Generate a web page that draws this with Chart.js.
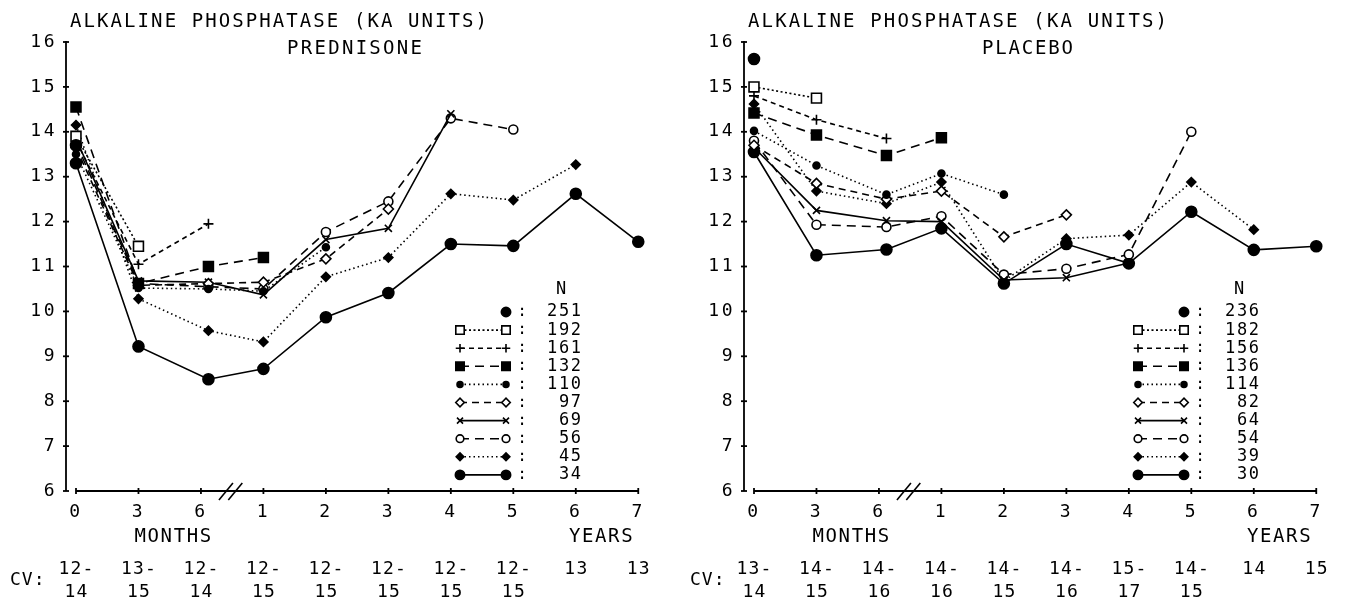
<!DOCTYPE html>
<html><head><meta charset="utf-8">
<script src="https://cdn.jsdelivr.net/npm/chart.js@4.4.1/dist/chart.umd.min.js"></script>
<style>
html,body{margin:0;padding:0;background:#fff;}
#wrap{position:relative;width:1348px;height:603px;overflow:hidden;background:#fff;}
canvas{position:absolute;top:0;}
</style></head><body>
<div id="wrap">
<canvas id="pred" width="670" height="603" style="left:0px"></canvas>
<canvas id="plac" width="670" height="603" style="left:678px"></canvas>
</div>
<script>
// ---- axis categories ----
const xTickLabels = ['0','3','6','1','2','3','4','5','6','7'];
const visitPos = [0, 1, 2.12, 3, 4, 5, 6, 7, 8, 9]; // 0,3,6 months, 1..7 years
const yTicks = [6,7,8,9,10,11,12,13,14,15,16];

// ---- PREDNISONE ----
const predN = [251, 192, 161, 132, 110, 97, 69, 56, 45, 34];
const pred251 = [13.7];
const pred192 = [13.9, 11.45];
const pred161 = [13.8, 11.05, 11.95];
const pred132 = [14.55, 10.62, 11.0, 11.2];
const pred110 = [13.5, 10.52, 10.5, 10.45, 11.43];
const pred97  = [13.65, 10.58, 10.62, 10.65, 11.17, 12.28];
const pred69  = [13.85, 10.68, 10.65, 10.37, 11.6, 11.85, 14.4];
const pred56  = [13.75, 10.62, 10.55, 10.5, 11.77, 12.45, 14.3, 14.05];
const pred45  = [14.15, 10.28, 9.57, 9.32, 10.77, 11.2, 12.62, 12.48, 13.27];
const pred34  = [13.3, 9.22, 8.49, 8.72, 9.87, 10.41, 11.5, 11.46, 12.62, 11.55];
const predCVTop    = ['12-','13-','12-','12-','12-','12-','12-','12-','13','13'];
const predCVBottom = ['14','15','14','15','15','15','15','15','',''];

// ---- PLACEBO ----
const placN = [236, 182, 156, 136, 114, 82, 64, 54, 39, 30];
const plac236 = [15.62];
const plac182 = [15.0, 14.75];
const plac156 = [14.8, 14.27, 13.85];
const plac136 = [14.42, 13.93, 13.47, 13.87];
const plac114 = [14.02, 13.25, 12.6, 13.07, 12.6];
const plac82  = [13.7, 12.85, 12.5, 12.68, 11.66, 12.15];
const plac64  = [13.65, 12.25, 12.02, 12.0, 10.7, 10.75, 11.08];
const plac54  = [13.8, 11.93, 11.88, 12.12, 10.82, 10.95, 11.27, 14.0];
const plac39  = [14.62, 12.68, 12.4, 12.88, 10.68, 11.62, 11.7, 12.88, 11.82];
const plac30  = [13.55, 11.25, 11.38, 11.85, 10.62, 11.5, 11.07, 12.22, 11.37, 11.45];
const placCVTop    = ['13-','14-','14-','14-','14-','14-','15-','14-','14','15'];
const placCVBottom = ['14','15','16','16','15','16','17','15','',''];

// ---- styles (marker / line) per series position ----
const seriesStyles = [
  {pointStyle:'circle',   pointRadius:5.5, pointBackgroundColor:'#000', showLine:false, borderDash:[]},
  {pointStyle:'rect',     pointRadius:7,   pointBackgroundColor:'#fff', borderDash:[2,2.5]},
  {pointStyle:'cross',    pointRadius:5,   pointBackgroundColor:'#000', borderDash:[5,4]},
  {pointStyle:'rect',     pointRadius:7,   pointBackgroundColor:'#000', borderDash:[9,6]},
  {pointStyle:'circle',   pointRadius:3.5, pointBackgroundColor:'#000', borderDash:[1.5,3]},
  {pointStyle:'rectRot',  pointRadius:5,   pointBackgroundColor:'#fff', borderDash:[7,5]},
  {pointStyle:'crossRot', pointRadius:5,   pointBackgroundColor:'#000', borderDash:[]},
  {pointStyle:'circle',   pointRadius:4.5, pointBackgroundColor:'#fff', borderDash:[9,6]},
  {pointStyle:'rectRot',  pointRadius:4.5, pointBackgroundColor:'#000', borderDash:[1.5,3]},
  {pointStyle:'circle',   pointRadius:5.5, pointBackgroundColor:'#000', borderDash:[]}
];

const FONT = '"DejaVu Sans Mono", "Liberation Mono", monospace';

function drawText(ctx, s, x, y, size, align, spacing) {
  ctx.save();
  ctx.font = size + 'px ' + FONT;
  ctx.fillStyle = '#000';
  ctx.textBaseline = 'middle';
  ctx.textAlign = 'left';
  try { ctx.letterSpacing = '0px'; } catch (e) {}
  const base = ctx.measureText(s).width;
  const total = base + spacing * (s.length - 1);
  let left = x;
  if (align === 'center') left = x - total / 2;
  else if (align === 'right') left = x - total;
  try { ctx.letterSpacing = spacing + 'px'; } catch (e) {}
  ctx.fillText(s, left, y);
  ctx.restore();
}
function drawTextFit(ctx, s, left, y, size, width) {
  ctx.save();
  ctx.font = size + 'px ' + FONT;
  try { ctx.letterSpacing = '0px'; } catch (e) {}
  const base = ctx.measureText(s).width;
  ctx.restore();
  drawText(ctx, s, left, y, size, 'left', (width - base) / (s.length - 1));
}
function seg(ctx, x1, y1, x2, y2) {
  ctx.beginPath(); ctx.moveTo(x1, y1); ctx.lineTo(x2, y2); ctx.stroke();
}

const decor = {
  id: 'decor',
  beforeDraw(chart) {
    try { chart.ctx.letterSpacing = '2.5px'; } catch (e) {}
  },
  afterDraw(chart, args, o) {
    const ctx = chart.ctx;
    try { ctx.letterSpacing = '0px'; } catch (e) {}
    const xs = chart.scales.x, ys = chart.scales.y;
    const ax = chart.chartArea.left;
    const yb = ys.getPixelForValue(6);
    ctx.save();
    ctx.strokeStyle = '#000';
    ctx.lineWidth = 1.8;
    ctx.setLineDash([]);
    // y axis with cross ticks
    seg(ctx, ax, ys.getPixelForValue(16) - 1, ax, yb);
    yTicks.forEach(v => { const p = ys.getPixelForValue(v); seg(ctx, ax - 3, p, ax + 3, p); });
    // x axis (starts at first visit)
    seg(ctx, xs.getPixelForValue(0), yb, xs.getPixelForValue(9), yb);
    xTickLabels.forEach((_, i) => { const p = xs.getPixelForValue(i); seg(ctx, p, yb - 3, p, yb + 3); });
    // axis break //
    ctx.lineWidth = 1.6;
    [2.4, 2.55].forEach(v => {
      const p = xs.getPixelForValue(v);
      seg(ctx, p - 7, yb + 9, p + 7, yb - 8);
    });
    ctx.restore();

    // titles
    drawTextFit(ctx, 'ALKALINE PHOSPHATASE (KA UNITS)', 70, 22, 19, o.titleWidth);
    drawTextFit(ctx, o.subtitle, o.subLeft, 49, 19, o.subWidth);

    // axis words
    drawText(ctx, 'MONTHS', xs.getPixelForValue(1.55), 537, 19, 'center', 1.6);
    drawText(ctx, 'YEARS', xs.getPixelForValue(8.4), 537, 19, 'center', 1.6);

    // CV rows
    drawText(ctx, 'CV:', o.cvLeft, 580, 18, 'left', 1);
    o.cvTop.forEach((s, i) => {
      const p = xs.getPixelForValue(i);
      if (s) drawText(ctx, s, p, 569, 18, 'center', 1.2);
      if (o.cvBottom[i]) drawText(ctx, o.cvBottom[i], p, 592, 18, 'center', 1.2);
    });

    // legend
    const lx1 = 460, lx2 = 506, colonX = 522, numRight = 581;
    drawText(ctx, 'N', 561, 290, 17, 'center', 0);
    chart.data.datasets.forEach((ds, i) => {
      const y = 312 + i * 18.1;
      ctx.save();
      ctx.strokeStyle = '#000';
      ctx.lineWidth = ds.borderWidth;
      if (ds.showLine !== false) {
        ctx.setLineDash(ds.borderDash || []);
        seg(ctx, lx1, y, lx2, y);
      }
      ctx.setLineDash([]);
      ctx.fillStyle = ds.pointBackgroundColor;
      ctx.lineWidth = ds.pointBorderWidth;
      const po = {pointStyle: ds.pointStyle, rotation: 0, radius: ds.pointRadius * 0.85, borderWidth: ds.pointBorderWidth};
      if (ds.showLine !== false) Chart.helpers.drawPoint(ctx, po, lx1, y);
      Chart.helpers.drawPoint(ctx, po, lx2, y);
      ctx.restore();
      drawText(ctx, ':', colonX, y, 16, 'center', 0);
      drawText(ctx, ds.label, numRight, y, 17, 'right', 1.6);
    });
  }
};

function makeChart(id, nList, seriesList, opts) {
  const datasets = seriesList.map((vals, i) => Object.assign({
    label: String(nList[i]),
    data: vals.map((v, k) => ({x: visitPos[k], y: v})),
    borderColor: '#000',
    pointBorderColor: '#000',
    borderWidth: 1.6,
    pointBorderWidth: 1.6,
    pointHoverRadius: 5,
    tension: 0,
    fill: false
  }, seriesStyles[i]));
  return new Chart(document.getElementById(id), {
    type: 'line',
    data: {datasets},
    plugins: [decor],
    options: {
      responsive: false,
      animation: false,
      devicePixelRatio: 1,
      layout: {padding: {top: 42, right: 13, left: 0, bottom: 0}},
      plugins: {legend: {display: false}, tooltip: {enabled: false}, decor: opts},
      scales: {
        x: {
          type: 'linear', min: -0.16, max: 9.3,
          afterBuildTicks: s => { s.ticks = xTickLabels.map((_, i) => ({value: i})); },
          afterFit: s => { s.height = 112; },
          ticks: {
            autoSkip: false, maxRotation: 0, padding: 11, color: '#000',
            font: {family: FONT, size: 18},
            callback: (v) => xTickLabels[Math.round(v)]
          },
          grid: {display: false, drawTicks: false},
          border: {display: false}
        },
        y: {
          min: 6, max: 16,
          afterBuildTicks: s => { s.ticks = yTicks.map(v => ({value: v})); },
          afterFit: s => { s.width = 66; },
          ticks: {padding: 9, color: '#000', font: {family: FONT, size: 18}},
          grid: {display: false, drawTicks: false},
          border: {display: false}
        }
      }
    }
  });
}

makeChart('pred', predN,
  [pred251, pred192, pred161, pred132, pred110, pred97, pred69, pred56, pred45, pred34],
  {subtitle: 'PREDNISONE', subLeft: 287, subWidth: 135, titleWidth: 417,
   cvTop: predCVTop, cvBottom: predCVBottom, cvLeft: 10});
makeChart('plac', placN,
  [plac236, plac182, plac156, plac136, plac114, plac82, plac64, plac54, plac39, plac30],
  {subtitle: 'PLACEBO', subLeft: 304, subWidth: 91, titleWidth: 419,
   cvTop: placCVTop, cvBottom: placCVBottom, cvLeft: 12});
</script>
</body></html>
